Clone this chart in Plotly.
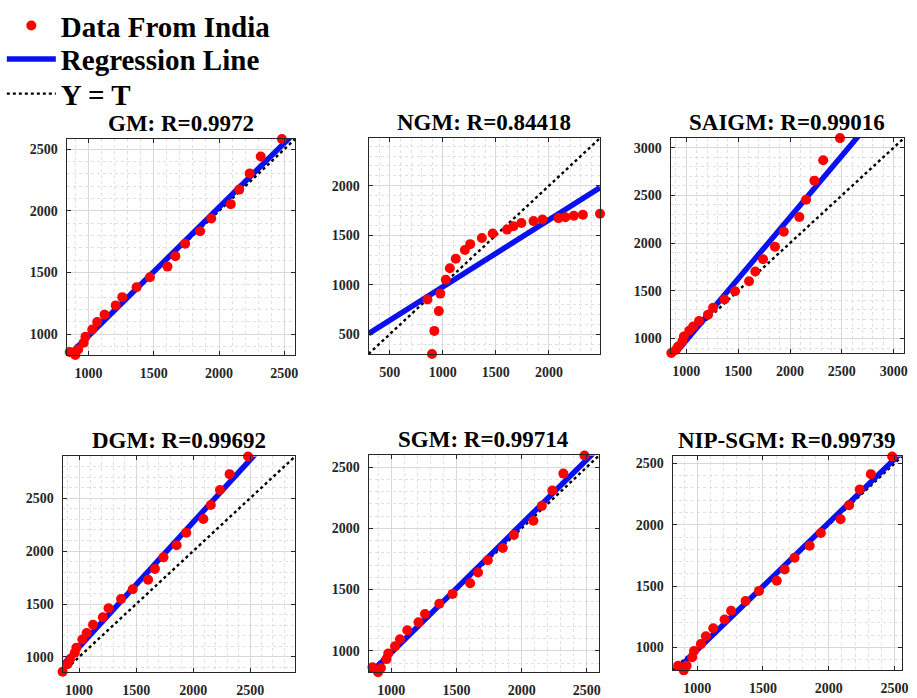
import numpy as np
import plotly.graph_objects as go

# ---------------- data ----------------
target = [855, 898, 920, 962, 976, 1028, 1066, 1122, 1208, 1258, 1368, 1470,
          1605, 1665, 1740, 1855, 1940, 2090, 2155, 2235, 2320, 2482]

gm = [855, 831, 876, 930, 978, 1038, 1099, 1158, 1233, 1300, 1381, 1462,
      1548, 1633, 1733, 1835, 1939, 2055, 2173, 2304, 2441, 2583]
ngm = [850, 300, 533, 733, 910, 1050, 1167, 1263, 1350, 1410, 1473, 1517,
       1557, 1590, 1623, 1643, 1660, 1673, 1683, 1697, 1707, 1717]
saigm = [848, 880, 915, 970, 1020, 1080, 1125, 1183, 1249, 1322, 1408, 1495,
         1599, 1702, 1830, 1962, 2118, 2273, 2453, 2654, 2868, 3100]
dgm = [860, 932, 978, 1040, 1087, 1165, 1227, 1304, 1376, 1460, 1547, 1640,
       1730, 1832, 1941, 2056, 2174, 2304, 2435, 2578, 2727, 2894]
sgm = [866, 825, 860, 933, 978, 1038, 1094, 1169, 1234, 1301, 1384, 1465,
       1551, 1640, 1739, 1839, 1946, 2062, 2183, 2309, 2446, 2594]
nipsgm = [851, 813, 851, 920, 971, 1027, 1091, 1157, 1227, 1299, 1379, 1461,
          1544, 1635, 1731, 1829, 1933, 2045, 2160, 2288, 2413, 2557]

titles = ["GM: R=0.9972", "NGM: R=0.84418", "SAIGM: R=0.99016",
          "DGM: R=0.99692", "SGM: R=0.99714", "NIP-SGM: R=0.99739"]
models = [gm, ngm, saigm, dgm, sgm, nipsgm]

legend_names = ["Data From India", "Regression Line", "Y = T"]

# ---------------- layout geometry (pixels) ----------------
W, H = 917, 698
boxes = [  # (left, right, top, bottom) in px
    (67, 297, 134, 353),
    (371, 604, 133, 352),
    (675, 910, 133, 351),
    (63, 297, 456, 675),
    (371, 603, 455, 675),
    (677, 908, 456, 673),
]

SERIF = "Liberation Serif, Times New Roman, serif"
LEG_FONT = dict(family=SERIF, size=29, color="black", weight="bold")

fig = go.Figure()
layout = dict(
    width=W, height=H,
    margin=dict(l=0, r=0, t=0, b=0),
    paper_bgcolor="white", plot_bgcolor="white",
    showlegend=True,
)
# three single-entry legends stacked at the top-left
leg_centers = [19, 53, 88]
for k, cy in enumerate(leg_centers):
    key = "legend" if k == 0 else "legend%d" % (k + 1)
    layout[key] = dict(x=0.002, y=1 - cy / H, xanchor="left", yanchor="middle",
                       font=LEG_FONT, bgcolor="rgba(0,0,0,0)", itemwidth=49,
                       borderwidth=0)

annotations = []
t_arr = np.array(target, dtype=float)
for i, (ydata, title, box) in enumerate(zip(models, titles, boxes)):
    idx = "" if i == 0 else str(i + 1)
    xa, ya = "x" + idx, "y" + idx
    y_arr = np.array(ydata, dtype=float)
    lo = float(min(t_arr.min(), y_arr.min()))
    hi = float(max(t_arr.max(), y_arr.max()))
    slope, intercept = np.polyfit(t_arr, y_arr, 1)
    lim = np.array([lo, hi])

    first = (i == 0)
    fig.add_trace(go.Scatter(x=lim, y=lim, mode="lines", xaxis=xa, yaxis=ya,
                             line=dict(color="black", width=2.4, dash="dot"),
                             name=legend_names[2], showlegend=first, legend="legend3"))
    fig.add_trace(go.Scatter(x=lim, y=slope * lim + intercept, mode="lines",
                             xaxis=xa, yaxis=ya,
                             line=dict(color="#0a10f0", width=5.5),
                             name=legend_names[1], showlegend=first, legend="legend2"))
    fig.add_trace(go.Scatter(x=t_arr, y=y_arr, mode="markers", xaxis=xa, yaxis=ya,
                             marker=dict(color="#ff0000", size=10, line=dict(width=0)),
                             cliponaxis=False,
                             name=legend_names[0], showlegend=first, legend="legend"))

    l, r, t, b = box
    axcommon = dict(
        range=[lo, hi], dtick=500, tick0=0,
        showline=True, linecolor="#262626", linewidth=1, mirror="ticks",
        ticks="inside", ticklen=4, tickcolor="#262626",
        showgrid=True, gridcolor="#d9d9d9", gridwidth=1,
        minor=dict(dtick=100, showgrid=True, gridcolor="#e0e0e0",
                   griddash="dot", gridwidth=1, ticks=""),
        zeroline=False, ticklabelstandoff=5,
        tickfont=dict(family=SERIF, size=14, color="#262626", weight="bold"),
    )
    layout["xaxis" + idx] = dict(axcommon, domain=[l / W, r / W], anchor=ya)
    layout["yaxis" + idx] = dict(axcommon, domain=[1 - b / H, 1 - t / H], anchor=xa)

    annotations.append(dict(
        text=title, x=(l + r) / 2 / W, y=1 - t / H, xref="paper", yref="paper",
        xanchor="center", yanchor="bottom", showarrow=False, yshift=1,
        font=dict(family=SERIF, size=23, color="black", weight="bold"),
    ))

layout["annotations"] = annotations
fig.update_layout(**layout)
fig.write_html("out.html")
